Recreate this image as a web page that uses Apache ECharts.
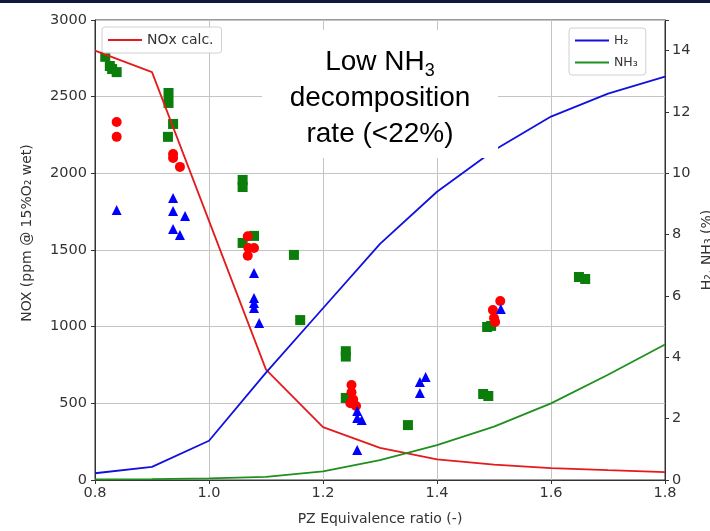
<!DOCTYPE html>
<html>
<head>
<meta charset="utf-8">
<script src="https://cdn.jsdelivr.net/npm/echarts@6/dist/echarts.min.js"></script>
<style>html,body{margin:0;padding:0;background:#fff;}#c{width:710px;height:531px;}</style>
</head>
<body>
<div id="c"></div>
<script>
// ---- data ----
var calcX = [0.8, 0.9, 1.0, 1.1, 1.2, 1.3, 1.4, 1.5, 1.6, 1.7, 1.8];
var noxCalc = [2800, 2660, 1690, 720, 345, 210, 135, 100, 78, 64, 52];
var h2Pct = [0.22, 0.43, 1.28, 3.5, 5.6, 7.7, 9.4, 10.75, 11.85, 12.6, 13.15];
var nh3Pct = [0.02, 0.03, 0.05, 0.1, 0.28, 0.65, 1.14, 1.74, 2.5, 3.43, 4.42];

var greenSquares = [
  [0.818, 2760], [0.826, 2700], [0.83, 2680], [0.838, 2660],
  [0.929, 2524], [0.929, 2459], [0.937, 2322], [0.928, 2238],
  [1.059, 1957], [1.059, 1911], [1.059, 1546], [1.079, 1592],
  [1.149, 1468], [1.16, 1043],
  [1.24, 840], [1.24, 805], [1.24, 535],
  [1.349, 358], [1.481, 561], [1.49, 548],
  [1.488, 998], [1.495, 1005],
  [1.649, 1324], [1.66, 1311]
];
var redCircles = [
  [0.838, 2335], [0.838, 2238],
  [0.937, 2126], [0.937, 2100], [0.949, 2042],
  [1.068, 1590], [1.069, 1513], [1.079, 1513], [1.068, 1462],
  [1.25, 620], [1.25, 572], [1.253, 525], [1.248, 500], [1.258, 483],
  [1.511, 1167], [1.498, 1109], [1.5, 1057], [1.502, 1031]
];
var blueTriangles = [
  [0.838, 1761],
  [0.937, 1839], [0.937, 1755], [0.958, 1722], [0.937, 1637], [0.949, 1598],
  [1.079, 1350], [1.079, 1187], [1.079, 1154], [1.079, 1122], [1.088, 1024],
  [1.26, 450], [1.26, 404], [1.268, 391], [1.26, 196],
  [1.37, 567], [1.37, 639], [1.38, 672],
  [1.512, 1115]
];
var xTicks = {min: 0.8, max: 1.8, interval: 0.2};
var leftTicks = {min: 0, max: 3000, interval: 500};
var rightTicks = {min: 0, max: 15, interval: 2};

function pairs(xs, ys) { return xs.map(function (x, i) { return [x, ys[i]]; }); }

var chart = echarts.init(document.getElementById('c'), null, {renderer: 'canvas'});
var txt = '#333';
var ff = 'DejaVu Sans';
chart.setOption({
  animation: false,
  backgroundColor: '#fff',
  grid: {left: 95, right: 45, top: 20, bottom: 51, show: true, borderColor: '#333', borderWidth: 1, backgroundColor: 'transparent'},
  xAxis: {
    type: 'value', min: xTicks.min, max: xTicks.max, interval: xTicks.interval,
    name: 'PZ Equivalence ratio (-)', nameLocation: 'middle', nameGap: 32,
    nameTextStyle: {fontFamily: ff, fontSize: 14, color: txt},
    axisLine: {show: true, onZero: false, lineStyle: {color: '#333', width: 1}},
    axisTick: {show: true, length: 4, lineStyle: {color: '#333'}},
    axisLabel: {fontFamily: ff, fontSize: 14.5, color: txt, margin: 6, formatter: function (v) { return v.toFixed(1); }},
    splitLine: {show: true, lineStyle: {color: '#c4c4c4', width: 1}}
  },
  yAxis: [{
    type: 'value', min: leftTicks.min, max: leftTicks.max, interval: leftTicks.interval,
    axisLine: {show: true, lineStyle: {color: '#333', width: 1}},
    axisTick: {show: true, length: 4, lineStyle: {color: '#333'}},
    axisLabel: {fontFamily: ff, fontSize: 14.5, color: txt, margin: 8, formatter: function (v) { return String(v); }},
    splitLine: {show: true, lineStyle: {color: '#c4c4c4', width: 1}}
  }, {
    type: 'value', position: 'right', min: rightTicks.min, max: rightTicks.max, interval: rightTicks.interval,
    axisLine: {show: true, lineStyle: {color: '#333', width: 1}},
    axisTick: {show: true, length: 4, lineStyle: {color: '#333'}},
    axisLabel: {fontFamily: ff, fontSize: 14.5, color: txt, margin: 7, formatter: function (v) { return v > 14 ? '' : String(v); }},
    splitLine: {show: false}
  }],
  legend: [{
    data: ['NOx calc.'], left: 102, top: 27, icon: 'rect', itemWidth: 34, itemHeight: 2, itemGap: 6,
    padding: [6, 8, 6, 6], backgroundColor: 'rgba(255,255,255,0.85)', borderColor: '#d0d0d0', borderWidth: 1, borderRadius: 3,
    textStyle: {fontFamily: ff, fontSize: 14, color: txt}
  }, {
    data: ['H₂', 'NH₃'], left: 569, top: 28, orient: 'vertical', icon: 'rect', itemWidth: 34, itemHeight: 2, itemGap: 9,
    padding: [6, 8, 6, 6], backgroundColor: 'rgba(255,255,255,0.85)', borderColor: '#d0d0d0', borderWidth: 1, borderRadius: 3,
    textStyle: {fontFamily: ff, fontSize: 12.5, color: txt}
  }],
  series: [
    {type: 'scatter', name: 'sq', data: greenSquares, symbol: 'rect', symbolSize: 10, itemStyle: {color: '#0a7d0a', opacity: 1}, z: 2},
    {type: 'scatter', name: 'ci', data: redCircles, symbol: 'circle', symbolSize: 10, itemStyle: {color: '#ff0000', opacity: 1}, z: 2},
    {type: 'scatter', name: 'tr', data: blueTriangles, symbol: 'triangle', symbolSize: 10, itemStyle: {color: '#0000ff', opacity: 1}, z: 2},
    {type: 'line', name: 'NOx calc.', data: pairs(calcX, noxCalc), yAxisIndex: 0, symbol: 'none', lineStyle: {color: '#e41a1c', width: 1.8}, itemStyle: {color: '#e41a1c'}, z: 3},
    {type: 'line', name: 'H₂', data: pairs(calcX, h2Pct), yAxisIndex: 1, symbol: 'none', lineStyle: {color: '#1010e0', width: 1.8}, itemStyle: {color: '#1010e0'}, z: 3},
    {type: 'line', name: 'NH₃', data: pairs(calcX, nh3Pct), yAxisIndex: 1, symbol: 'none', lineStyle: {color: '#1f8f1f', width: 1.8}, itemStyle: {color: '#1f8f1f'}, z: 3}
  ],
  graphic: [
    {type: 'rect', z: 100, shape: {x: 0, y: 0, width: 710, height: 3}, style: {fill: '#0e1a3e'}},
    {type: 'rect', z: 100, shape: {x: 262, y: 30, width: 236, height: 128}, style: {fill: '#fff'}},
    {type: 'text', z: 101, x: 380, y: 44, style: {
      text: '{a|Low NH}{s|3}\n{a|decomposition}\n{a|rate (<22%)}',
      align: 'center', verticalAlign: 'top', fill: '#000',
      rich: {
        a: {fontFamily: 'Liberation Sans', fontSize: 28, lineHeight: 36, fill: '#000', verticalAlign: 'middle'},
        s: {fontFamily: 'Liberation Sans', fontSize: 18, lineHeight: 22, fill: '#000', verticalAlign: 'bottom'}
      }
    }},
    {type: 'text', z: 101, x: 27, y: 233, rotation: Math.PI / 2, style: {
      text: 'NOX (ppm @ 15%O₂ wet)', align: 'center', verticalAlign: 'middle', fontFamily: ff, fontSize: 14, fill: txt
    }},
    {type: 'text', z: 101, x: 707, y: 250, rotation: Math.PI / 2, style: {
      text: 'H₂, NH₃ (%)', align: 'center', verticalAlign: 'middle', fontFamily: ff, fontSize: 14, fill: txt
    }}
  ]
});
</script>
</body>
</html>
